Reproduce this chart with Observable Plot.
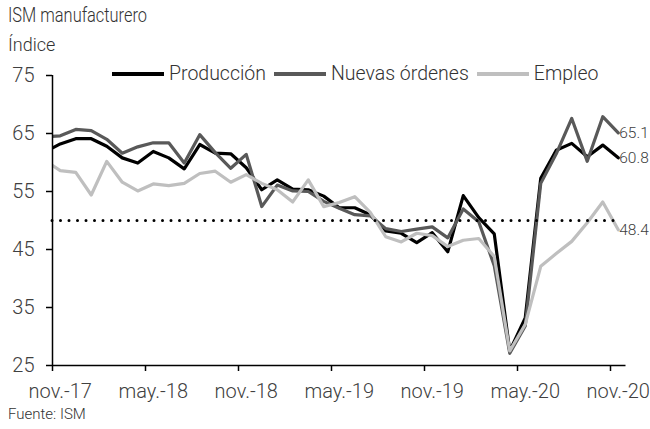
<!DOCTYPE html>
<html><head><meta charset="utf-8">
<script src="https://cdn.jsdelivr.net/npm/d3@7"></script>
<script src="https://cdn.jsdelivr.net/npm/@observablehq/plot@0.6"></script>
<style>
body{margin:0;background:#fff;}
#wrap{position:relative;width:650px;height:429px;overflow:hidden;font-family:Roboto,"Liberation Sans",sans-serif;font-weight:300;color:#333;}
#title{position:absolute;left:8px;top:3px;font-size:20.5px;white-space:nowrap;transform:scaleX(0.8);transform-origin:left top;}
#sub{position:absolute;left:8px;top:34px;font-size:18px;}
#legend{position:absolute;left:112px;top:62px;display:flex;align-items:center;font-size:19.5px;white-space:nowrap;}
.sw{display:inline-block;width:52px;height:4px;margin-right:5px;}
.item{display:flex;align-items:center;margin-right:8px;}
#chart{position:absolute;left:0;top:60px;}
#cap{position:absolute;left:8px;top:405px;font-size:15px;}
</style></head><body>
<div id="wrap">
 <div id="title">ISM manufacturero</div>
 <div id="sub">Índice</div>
 <div id="chart"></div>
 <div id="legend"></div>
 <div id="cap">Fuente: ISM</div>
</div>
<script>
const months = ["oct.-17","nov.-17","dic.-17","ene.-18","feb.-18","mar.-18","abr.-18","may.-18","jun.-18","jul.-18","ago.-18","sep.-18","oct.-18","nov.-18","dic.-18","ene.-19","feb.-19","mar.-19","abr.-19","may.-19","jun.-19","jul.-19","ago.-19","sep.-19","oct.-19","nov.-19","dic.-19","ene.-20","feb.-20","mar.-20","abr.-20","may.-20","jun.-20","jul.-20","ago.-20","sep.-20","oct.-20","nov.-20"];
const produccion = [61.8,63.2,64.1,64.1,62.8,60.8,59.9,61.9,60.8,58.9,63.1,61.6,61.5,59.1,55.3,57.0,55.4,55.3,54.2,52.2,52.2,51.0,48.2,47.8,46.2,47.9,44.6,54.3,50.5,47.7,27.5,33.2,57.3,62.1,63.3,61.0,63.0,60.8];
const nuevasOrdenes = [64.4,64.6,65.7,65.5,64.0,61.6,62.7,63.4,63.4,59.9,64.8,61.7,59.0,61.4,52.4,56.1,55.1,55.0,53.3,52.1,51.0,50.8,48.6,48.1,48.5,48.9,47.0,52.0,49.8,42.2,27.1,31.8,56.4,61.5,67.6,60.2,67.9,65.1];
const empleo = [60.4,58.6,58.3,54.4,60.2,56.6,55.1,56.3,56.0,56.4,58.1,58.5,56.6,57.9,56.4,55.3,53.2,57.0,52.4,53.1,54.1,51.4,47.2,46.3,47.8,47.4,45.5,46.6,46.9,43.8,27.5,32.1,42.1,44.3,46.4,49.6,53.2,48.4];
const seriesNames = ["Producción","Nuevas órdenes","Empleo"];
const seriesColors = ["#000000","#595959","#bfbfbf"];
const yTicks = [25,35,45,55,65,75];
const threshold = 50;
const labelMonths = ["nov.-17","may.-18","nov.-18","may.-19","nov.-19","may.-20","nov.-20"];

const seriesValues = [produccion, nuevasOrdenes, empleo];
const rows = seriesValues.flatMap((vals, s) => vals.map((v, i) => ({serie: seriesNames[s], i, v})));
const last = seriesValues.map((vals, s) => ({serie: seriesNames[s], i: vals.length - 1, v: vals[vals.length - 1]}));
const labelIdx = labelMonths.map(m => months.indexOf(m));
const boundaries = labelIdx.map(i => i - 0.5);
const xDomain = [0.5, months.length - 0.5];
const font = 'Roboto,"Liberation Sans",sans-serif';

const chart = Plot.plot({
  width: 650, height: 345,
  marginTop: 15, marginBottom: 40, marginLeft: 52, marginRight: 24.5,
  x: {domain: xDomain, label: null},
  y: {domain: [yTicks[0], yTicks[yTicks.length - 1]], label: null},
  color: {domain: seriesNames, range: seriesColors},
  style: {fontFamily: font, fontWeight: 300, fontSize: "20px", color: "#404040", background: "transparent", overflow: "visible"},
  marks: [
    Plot.lineY(rows, {x: "i", y: "v", z: "serie", stroke: "serie", strokeWidth: 3.2, strokeLinejoin: "round", clip: true}),
    Plot.ruleY([threshold], {x1: xDomain[0], x2: months.length - 1, stroke: "#000", strokeWidth: 3, strokeDasharray: "0 8.5", strokeLinecap: "round"}),
    Plot.ruleX([xDomain[0]], {y1: yTicks[0], y2: yTicks[yTicks.length - 1], stroke: "#000", strokeWidth: 1.5}),
    Plot.ruleY([yTicks[0]], {stroke: "#000", strokeWidth: 1.5}),
    Plot.axisY({ticks: yTicks, tickSize: 6, tickPadding: 12, tickFormat: d => d, stroke: "#000", strokeWidth: 1.5, fontSize: 20}),
    Plot.axisX({ticks: boundaries, tickSize: 6, tickFormat: () => "", stroke: "#000", strokeWidth: 1.5}),
    Plot.axisX({ticks: labelIdx, tickSize: 0, tickPadding: 18, tickFormat: i => months[i], fontSize: 20}),
    Plot.text(last, {x: "i", y: "v", text: d => d.v.toFixed(1), textAnchor: "start", dx: 1, fill: "#404040", fontSize: 15.5})
  ]
});
document.getElementById("chart").appendChild(chart);

const legend = document.getElementById("legend");
seriesNames.forEach((n, k) => {
  const it = document.createElement("div");
  it.className = "item";
  const sw = document.createElement("span");
  sw.className = "sw";
  sw.style.background = seriesColors[k];
  const t = document.createElement("span");
  t.textContent = n;
  it.appendChild(sw); it.appendChild(t);
  legend.appendChild(it);
});
</script>
</body></html>
